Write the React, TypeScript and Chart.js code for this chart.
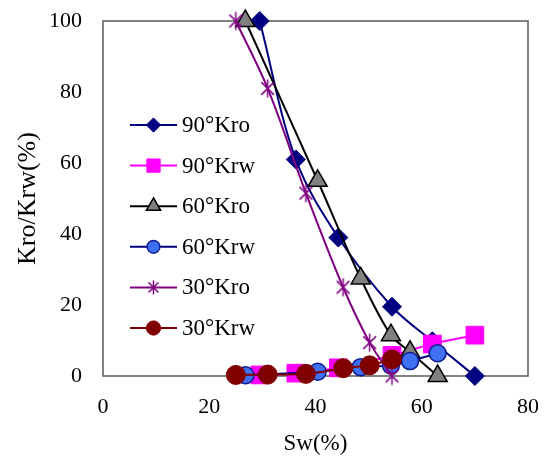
import React, { useEffect, useRef } from 'react';
import { Chart, registerables } from 'chart.js';
import { drawPoint } from 'chart.js/helpers';

Chart.register(...registerables);

// Sw (%) and relative permeability (%)
const sw90 = [29.5, 36.3, 44.3, 54.4, 62.0, 70.0];
const kro90 = [100, 61, 39, 19.5, 9.8, 0];
const krw90 = [0.3, 0.8, 2.3, 5.8, 9.0, 11.5];

const sw60 = [26.8, 40.4, 48.5, 54.2, 57.8, 63.0];
const kro60 = [100, 55, 27.5, 11.5, 6.8, 0];
const krw60 = [0.2, 1.2, 2.5, 3.0, 4.2, 6.4];

const sw30 = [25.0, 31.0, 38.2, 45.2, 50.2, 54.4];
const kro30 = [100, 81, 51.5, 25, 9.4, 0];
const krw30 = [0.3, 0.4, 0.6, 2.2, 3.0, 4.7];

const seriesNames = ['90°Kro', '90°Krw', '60°Kro', '60°Krw', '30°Kro', '30°Krw'];

const FONT = '"Liberation Serif", "Times New Roman", serif';

const pts = (xs: number[], ys: number[]) => xs.map((x, i) => ({ x, y: ys[i] }));

// asterisk marker (vertical bar + X), like Excel's "*" marker
function makeStar(r: number, color: string, lw: number) {
    const s = Math.ceil(r * 2 + lw * 2);
    const c = document.createElement('canvas');
    c.width = s;
    c.height = s;
    const g = c.getContext('2d')!;
    const m = s / 2;
    const d = r * Math.SQRT1_2;
    g.strokeStyle = color;
    g.lineWidth = lw;
    g.beginPath();
    g.moveTo(m, m - r);
    g.lineTo(m, m + r);
    g.moveTo(m - d, m - d);
    g.lineTo(m + d, m + d);
    g.moveTo(m - d, m + d);
    g.lineTo(m + d, m - d);
    g.stroke();
    return c;
}

const framePlugin = {
    id: 'frame',
    beforeDatasetsDraw(chart: any) {
        const { ctx, chartArea: a } = chart;
        ctx.save();
        ctx.strokeStyle = '#595959';
        ctx.lineWidth = 1.5;
        ctx.strokeRect(a.left, a.top, a.right - a.left, a.bottom - a.top);
        ctx.restore();
    },
};

const legendPlugin = {
    id: 'insideLegend',
    afterDatasetsDraw(chart: any) {
        const { ctx, chartArea: a } = chart;
        const x0 = a.left + 27;
        const x1 = a.left + 74;
        chart.data.datasets.forEach((ds: any, i: number) => {
            const y = a.top + 104 + i * 40.6;
            ctx.save();
            ctx.strokeStyle = ds.borderColor;
            ctx.lineWidth = ds.borderWidth;
            ctx.beginPath();
            ctx.moveTo(x0, y);
            ctx.lineTo(x1, y);
            ctx.stroke();
            ctx.fillStyle = ds.pointBackgroundColor;
            ctx.strokeStyle = ds.pointBorderColor;
            ctx.lineWidth = ds.pointBorderWidth;
            drawPoint(ctx, {
                pointStyle: ds.legendStyle || ds.pointStyle,
                radius: ds.pointRadius * 0.75,
                rotation: 0,
                borderWidth: ds.pointBorderWidth,
            }, (x0 + x1) / 2, y);
            ctx.fillStyle = '#000';
            ctx.font = `23px ${FONT}`;
            ctx.textBaseline = 'middle';
            ctx.textAlign = 'left';
            ctx.fillText(ds.label, x1 + 5, y + 1);
            ctx.restore();
        });
    },
};

const App: React.FC = () => {
    const chartRef = useRef<HTMLCanvasElement>(null);

    useEffect(() => {
        if (!chartRef.current) return;
        const ctx = chartRef.current.getContext('2d');
        if (!ctx) return;

        const star = makeStar(9, '#800080', 1.5);
        const starSmall = makeStar(7, '#800080', 1.5);

        const base = {
            showLine: true,
            borderWidth: 2,
            tension: 0.35,
            clip: false,
        };

        const datasets: any[] = [
            {
                ...base, label: seriesNames[0], data: pts(sw90, kro90),
                borderColor: '#000080', pointBackgroundColor: '#000080', pointBorderColor: '#000080',
                pointStyle: 'rectRot', pointRadius: 9.5, pointBorderWidth: 1,
            },
            {
                ...base, label: seriesNames[1], data: pts(sw90, krw90),
                borderColor: '#FF00FF', pointBackgroundColor: '#FF00FF', pointBorderColor: '#FF00FF',
                pointStyle: 'rect', pointRadius: 12.5, pointBorderWidth: 1,
            },
            {
                ...base, label: seriesNames[2], data: pts(sw60, kro60),
                borderColor: '#000000', pointBackgroundColor: '#808080', pointBorderColor: '#000000',
                pointStyle: 'triangle', pointRadius: 11, pointBorderWidth: 1.5,
            },
            {
                ...base, label: seriesNames[3], data: pts(sw60, krw60),
                borderColor: '#000080', pointBackgroundColor: '#3F6FF2', pointBorderColor: '#0F1C8C',
                pointStyle: 'circle', pointRadius: 8.5, pointBorderWidth: 1.5,
            },
            {
                ...base, label: seriesNames[4], data: pts(sw30, kro30),
                borderColor: '#800080', pointBackgroundColor: '#800080', pointBorderColor: '#800080',
                pointStyle: star, legendStyle: starSmall, pointRadius: 9, pointBorderWidth: 1.5,
            },
            {
                ...base, label: seriesNames[5], data: pts(sw30, krw30),
                borderColor: '#800000', pointBackgroundColor: '#800000', pointBorderColor: '#800000',
                pointStyle: 'circle', pointRadius: 9.5, pointBorderWidth: 1,
            },
        ];
        // later series drawn on top, as in the original
        datasets.forEach((d, i) => { d.order = datasets.length - 1 - i; });

        const tickFont = { family: FONT, size: 22 };

        const chart = new Chart(ctx, {
            type: 'scatter',
            data: { datasets },
            options: {
                responsive: false,
                animation: false,
                events: [],
                layout: { autoPadding: false, padding: { top: 21, right: 22, left: 0, bottom: 0 } },
                plugins: {
                    legend: { display: false },
                    tooltip: { enabled: false },
                },
                scales: {
                    x: {
                        type: 'linear',
                        min: 0,
                        max: 80,
                        ticks: { stepSize: 20, padding: 18, color: '#000', font: tickFont },
                        grid: { display: false, drawTicks: false },
                        border: { display: false },
                        title: {
                            display: true, text: 'Sw(%)', color: '#000',
                            font: { family: FONT, size: 23 },
                            padding: { top: 0, bottom: 16 },
                        },
                        afterFit: (s: any) => {
                            s.height = 98;
                            s.paddingLeft = 0;
                            s.paddingRight = 0;
                        },
                    },
                    y: {
                        type: 'linear',
                        min: 0,
                        max: 100,
                        ticks: { stepSize: 20, padding: 21, color: '#000', font: tickFont },
                        grid: { display: false, drawTicks: false },
                        border: { display: false },
                        title: {
                            display: true, text: 'Kro/Krw(%)', color: '#000',
                            font: { family: FONT, size: 26 },
                            padding: { top: 13, bottom: 0 },
                        },
                        afterFit: (s: any) => {
                            s.width = 103;
                            s.paddingTop = 0;
                            s.paddingBottom = 0;
                        },
                    },
                },
            },
            plugins: [framePlugin, legendPlugin],
        } as any);

        return () => {
            chart.destroy();
        };
    }, []);

    return (
        <canvas
            ref={chartRef}
            width={550}
            height={474}
            style={{ position: 'absolute', left: 0, top: 0, background: '#fff' }}
        />
    );
};

export default App;
